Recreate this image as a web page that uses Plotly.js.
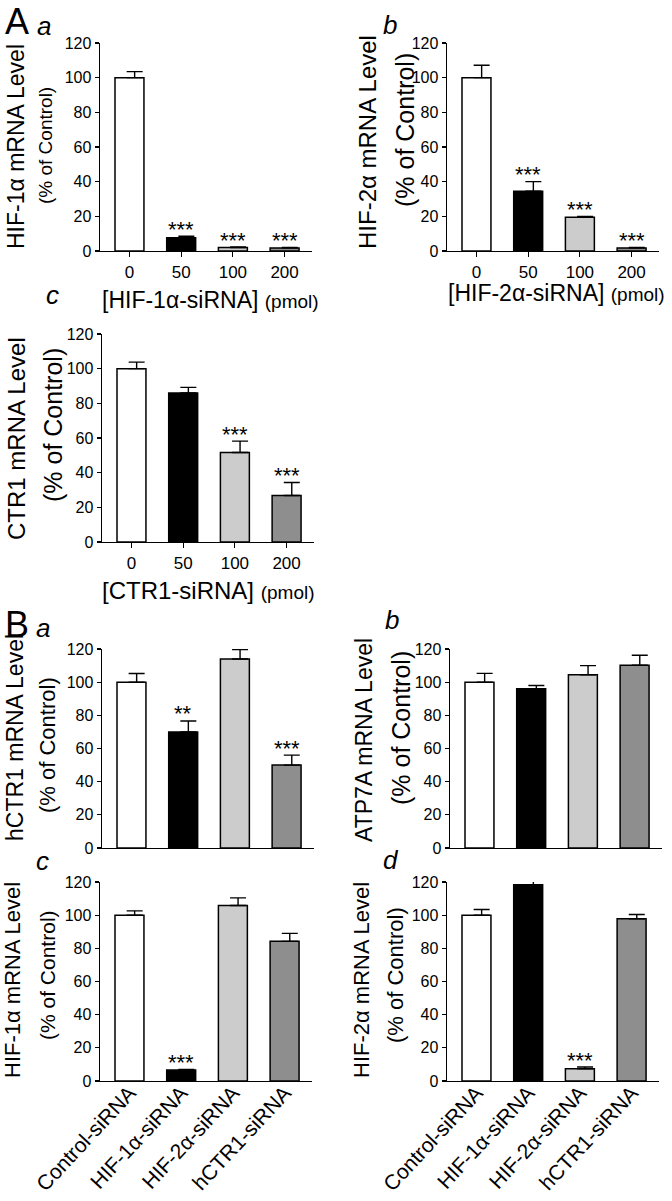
<!DOCTYPE html>
<html><head><meta charset="utf-8">
<script src="https://cdn.plot.ly/plotly-3.0.1.min.js"></script>
<style>html,body{margin:0;padding:0;background:#fff;}</style>
</head><body><div id="chart" style="width:672px;height:1201px;"></div>
<script>
// ---- data ----
const doseCats = ['0', '50', '100', '200'];
const siCats = ['Control-siRNA', 'HIF-1α-siRNA', 'HIF-2α-siRNA', 'hCTR1-siRNA'];
const barColors = ['#ffffff', '#000000', '#cccccc', '#8e8e8e'];

const aaVal = [100, 7.7, 2.0, 1.8];
const aaErr = [3.5, 0.8, 0.3, 0.3];
const aaSig = ['', '***', '***', '***'];

const abVal = [100, 34.5, 19.5, 1.8];
const abErr = [7.2, 5.5, 0.5, 0.3];
const abSig = ['', '***', '***', '***'];

const acVal = [100, 86, 51.6, 26.8];
const acErr = [3.8, 3.2, 6.6, 7.5];
const acSig = ['', '', '***', '***'];

const baVal = [100, 70, 114, 50];
const baErr = [5.2, 6.6, 5.6, 6.0];
const baSig = ['', '**', '', '***'];

const bbVal = [100, 96, 104.5, 110.2];
const bbErr = [5.3, 2.0, 5.5, 6.0];
const bbSig = ['', '', '', ''];

const bcVal = [100, 6.6, 105.8, 84.2];
const bcErr = [2.6, 0.3, 4.6, 4.8];
const bcSig = ['', '***', '', ''];

const bdVal = [100, 118.4, 7.4, 97.8];
const bdErr = [3.4, 2.8, 1.0, 2.6];
const bdSig = ['', '', '***', ''];

const yTicks = [0, 20, 40, 60, 80, 100, 120];

// ---- layout helpers ----
const W = 672, H = 1201;
const FONT = '"Liberation Sans", Arial, Helvetica, sans-serif';
const px = x => x / W;
const py = y => 1 - y / H;

const traces = [];
const annotations = [];
const layout = {
  width: W, height: H,
  margin: {l: 0, r: 0, t: 0, b: 0},
  paper_bgcolor: '#fff', plot_bgcolor: 'rgba(0,0,0,0)',
  showlegend: false,
  font: {family: FONT, color: '#000', size: 16},
  annotations: annotations
};

function panel(n, box, vals, errs, sigs, opts) {
  const xa = 'x' + (n === 1 ? '' : n), ya = 'y' + (n === 1 ? '' : n);
  const xk = 'xaxis' + (n === 1 ? '' : n), yk = 'yaxis' + (n === 1 ? '' : n);
  const idx = vals.map((v, i) => i);
  traces.push({
    type: 'bar', x: idx, y: vals, xaxis: xa, yaxis: ya, width: 0.56,
    marker: {color: barColors, line: {color: '#000', width: 1.5}},
    cliponaxis: false, hoverinfo: 'skip'
  });
  traces.push({
    type: 'scatter', mode: 'markers', x: idx.map(i => i + 0.1), y: vals,
    xaxis: xa, yaxis: ya, marker: {size: 1, color: 'rgba(0,0,0,0)'},
    cliponaxis: false, hoverinfo: 'skip',
    error_y: {type: 'data', symmetric: false, array: errs, arrayminus: vals.map(() => 0),
              color: '#000', thickness: 1.4, width: 8}
  });
  sigs.forEach((s, i) => {
    if (!s) return;
    annotations.push({xref: xa, yref: ya, x: i, y: vals[i] + errs[i], text: s,
      showarrow: false, xanchor: 'center', yanchor: 'middle', yshift: 7,
      font: {size: 22, family: FONT}});
  });
  layout[xk] = {
    domain: [px(box.x0), px(box.x1)], anchor: ya, range: [-0.57, 3.53],
    tickvals: idx, ticktext: opts.labels, showticklabels: opts.showLabels,
    tickangle: opts.angle || 0, tickfont: {size: opts.tickSize || 17, family: FONT},
    ticklabelstandoff: opts.standoff || 0,
    ticks: opts.xticks ? 'outside' : '', ticklen: 5, tickwidth: 1.2, tickcolor: '#000',
    showline: true, linecolor: '#000', linewidth: 1.4, showgrid: false, zeroline: false,
    fixedrange: true
  };
  layout[yk] = {
    domain: [py(box.y1), py(box.y0)], anchor: xa, range: [0, 120],
    tickvals: yTicks, ticks: 'outside', ticklen: 4, tickwidth: 1.2, tickcolor: '#000',
    tickfont: {size: 16, family: FONT},
    showline: true, linecolor: '#000', linewidth: 1.4, showgrid: false, zeroline: false,
    fixedrange: true
  };
}

function ytitle(x1, y1, s1, x2, y2, s2, t1) {
  annotations.push({xref: 'paper', yref: 'paper', x: px(x1), y: py(y1), text: t1,
    textangle: -90, showarrow: false, xanchor: 'center', yanchor: 'middle',
    font: {size: s1, family: FONT}});
  annotations.push({xref: 'paper', yref: 'paper', x: px(x2), y: py(y2), text: '(% of Control)',
    textangle: -90, showarrow: false, xanchor: 'center', yanchor: 'middle',
    font: {size: s2, family: FONT}});
}
function label(x, y, t, size, italic) {
  annotations.push({xref: 'paper', yref: 'paper', x: px(x), y: py(y),
    text: italic ? '<i>' + t + '</i>' : t, showarrow: false,
    xanchor: 'center', yanchor: 'middle', font: {size: size, family: FONT}});
}
function xtitle(x, y, main, s1, s2) {
  annotations.push({xref: 'paper', yref: 'paper', x: px(x), y: py(y),
    text: main + ' <span style="font-size:' + s2 + 'px">(pmol)</span>', showarrow: false,
    xanchor: 'center', yanchor: 'middle', font: {size: s1, family: FONT}});
}

const doseOpts = {labels: doseCats, showLabels: true, xticks: true, tickSize: 17};
const siOpts = {labels: siCats, showLabels: true, xticks: false, angle: -47, tickSize: 21, standoff: -10};
panel(1, {x0: 100, x1: 312, y0: 43, y1: 251}, aaVal, aaErr, aaSig, doseOpts);
panel(2, {x0: 447, x1: 659, y0: 43, y1: 251}, abVal, abErr, abSig, doseOpts);
panel(3, {x0: 102, x1: 314, y0: 334, y1: 542}, acVal, acErr, acSig, doseOpts);
panel(4, {x0: 102, x1: 314, y0: 649, y1: 848}, baVal, baErr, baSig, {labels: siCats, showLabels: false, xticks: false});
panel(5, {x0: 450, x1: 662, y0: 649, y1: 848}, bbVal, bbErr, bbSig, {labels: siCats, showLabels: false, xticks: false});
panel(6, {x0: 100, x1: 312, y0: 882, y1: 1081}, bcVal, bcErr, bcSig, siOpts);
panel(7, {x0: 447, x1: 659, y0: 882, y1: 1081}, bdVal, bdErr, bdSig, siOpts);

// y titles
ytitle(16, 147, 23, 46, 146, 19, 'HIF-1α mRNA Level');
ytitle(367, 142, 24, 405, 130, 25, 'HIF-2α mRNA Level');
ytitle(16, 439, 24, 53, 425, 25, 'CTR1 mRNA Level');
ytitle(15, 738, 23, 47, 745, 22, 'hCTR1 mRNA Level');
ytitle(364, 740, 23, 401, 728, 25, 'ATP7A mRNA Level');
ytitle(13, 980, 22, 47, 975, 21, 'HIF-1α mRNA Level');
ytitle(362, 980, 22, 395, 975, 22, 'HIF-2α mRNA Level');

// x titles
xtitle(210, 300, '[HIF-1α-siRNA]', 23, 19);
xtitle(556, 293, '[HIF-2α-siRNA]', 23, 19);
xtitle(208, 590, '[CTR1-siRNA]', 24, 19);

// panel letters
label(17, 21, 'A', 36, false);
label(17, 624, 'B', 36, false);
label(44, 26, 'a', 26, true);
label(390, 25, 'b', 26, true);
label(52, 295, 'c', 26, true);
label(43, 628, 'a', 26, true);
label(392, 620, 'b', 26, true);
label(42, 861, 'c', 26, true);
label(391, 860, 'd', 26, true);

Plotly.newPlot('chart', traces, layout, {staticPlot: true, displayModeBar: false});
</script></body></html>
